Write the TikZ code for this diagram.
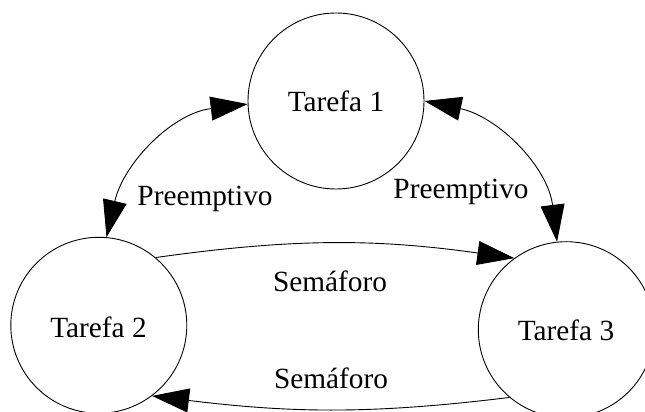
\documentclass[tikz,border=0pt]{standalone}
\usepackage{fontspec}
\setmainfont{Liberation Serif}
\usetikzlibrary{arrows.meta}
\begin{document}
\begin{tikzpicture}[x=1pt,y=1pt,
  task/.style={draw=black,circle,minimum size=176pt,inner sep=0pt,line width=0.9pt},
  txt/.style={inner sep=0pt,anchor=base,font=\fontsize{29.3}{35}\selectfont},
  conn/.style={line width=0.9pt},
  tip/.tip={Triangle[length=37pt,width=24pt]}]
\useasboundingbox (0,0) rectangle (645,412);
\node[task] (t1) at (336,311) {};
\node[task] (t2) at (98.8,86.7) {};
\node[task] (t3) at (566.3,82.3) {};
\node[txt] (l1) at (336,300) {Tarefa 1};
\node[txt] (l2) at (98.5,74) {Tarefa 2};
\node[txt] (l3) at (566,71.3) {Tarefa 3};
\draw[conn,tip-tip] (t1.182.6) to[out=187,in=77] (t2.85.3);
\draw[conn,tip-tip] (t1.0.6) to[out=-12,in=97] (t3.96.7);
\draw[conn,-tip] (t2.50.9) to[out=8,in=172] (t3.126.2);
\draw[conn,-tip] (t3.230.6) to[out=187,in=-7] (t2.-53.7);
\node[txt] (p1) at (205,206.3) {Preemptivo};
\node[txt] (p2) at (461,213.7) {Preemptivo};
\node[txt] (s1) at (330,120.3) {Semáforo};
\node[txt] (s2) at (331,23.7) {Semáforo};
\end{tikzpicture}
\end{document}
